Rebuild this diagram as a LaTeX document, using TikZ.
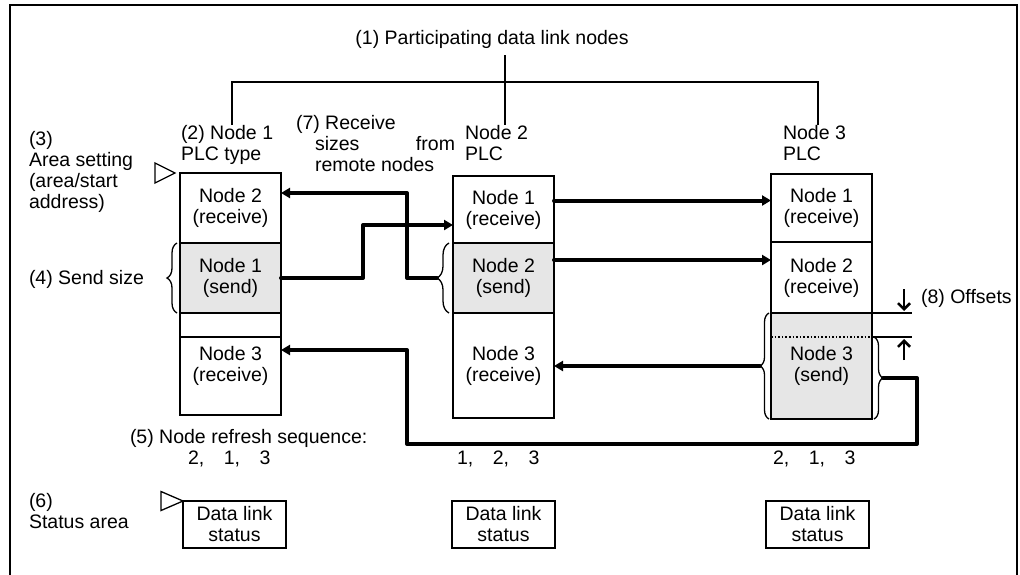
\documentclass[tikz,border=0pt]{standalone}
\usepackage{fontspec}
\setmainfont{Liberation Sans}
\usetikzlibrary{arrows.meta,decorations.pathreplacing,positioning}

\begin{document}
\begin{tikzpicture}[x=0.5pt, y=-0.5pt,
  every node/.style={font=\fontsize{9.75pt}{10.5pt}\selectfont, inner sep=0pt, outer sep=0pt},
  seccion/.style={draw, line width=1.1pt, minimum width=50.5pt, align=center, anchor=north},
  envio/.style={seccion, fill=grisEnvio},
  texto/.style={align=left, anchor=north west},
  estado/.style={draw, line width=0.8pt, minimum width=51.5pt, minimum height=23.5pt, align=center},
  fina/.style={line width=0.65pt},
  enlace/.style={line width=2pt, line cap=round, line join=round, -{Triangle[length=4.5pt,width=5pt]}},
  desplaz/.style={line width=1.3pt, -{Straight Barb[length=3pt,width=6pt]}},
  llave/.style={decorate, decoration={brace, amplitude=#1}, line width=0.65pt},
  llave/.default=5pt
]

% Colores
\definecolor{grisEnvio}{RGB}{230,230,230}

% Marco
\useasboundingbox (0,0) rectangle (1020,574);
\draw[line width=0.8pt] (10,580) -- (10,5) -- (1017,5) -- (1017,580);

% Titulo
\node[anchor=base] (titulo) at (492,44) {(1) Participating data link nodes};

% Columna nodo 1
\node[seccion, minimum height=35pt] (c1a) at (230.5,173) {Node 2\\(receive)};
\node[envio, minimum height=35pt, below=0pt of c1a] (c1b) {Node 1\\(send)};
\node[seccion, minimum height=12pt, below=0pt of c1b] (c1c) {};
\node[seccion, minimum height=39pt, below=0pt of c1c,
  label={[align=center, yshift=5pt]center:Node 3\\(receive)}] (c1d) {};

% Columna nodo 2
\node[seccion, minimum height=33.5pt] (c2a) at (503.5,176) {Node 1\\(receive)};
\node[envio, minimum height=35pt, below=0pt of c2a] (c2b) {Node 2\\(send)};
\node[seccion, minimum height=52.5pt, below=0pt of c2b] (c2c) {Node 3\\(receive)};

% Columna nodo 3
\node[seccion, minimum height=34pt] (c3a) at (821.5,174) {Node 1\\(receive)};
\node[seccion, minimum height=35.5pt, below=0pt of c3a] (c3b) {Node 2\\(receive)};
\node[envio, minimum height=53pt, below=0pt of c3b] (c3c) {Node 3\\(send)};
\draw[line width=0.8pt, densely dotted] ([yshift=-12pt]c3c.north west) -- ([yshift=-12pt]c3c.north east);

% Etiquetas de las PLC
\node[texto] (l1) at (181,125) {(2) Node 1\\PLC type};
\node[texto] (l2) at (465,125) {Node 2\\PLC};
\node[texto] (l3) at (783,125) {Node 3\\PLC};

% Bus de nodos participantes
\coordinate (busL) at (232,82);
\coordinate (busR) at (818,82);
\coordinate (busT) at (505,55);
\draw[fina] (busL |- l1.north) -- (busL) -- (busR) -- (busR |- l3.north);
\draw[fina] (busT) -- (busT |- l2.north);

% Textos de la izquierda
\node[texto] (area) at (29,131) {(3)\\Area setting\\(area/start\\address)};
\node[anchor=west] (tamenv) at (29,279) {(4) Send size};
\node[texto] (recep) at (296,115) {(7) Receive\\\hspace*{9.5pt}\makebox[70pt][s]{sizes from}\\\hspace*{9.5pt}remote nodes};
\node[texto] (estlbl) at (29,493) {(6)\\Status area};

% Marcadores de inicio de area
\draw[fina] ([xshift=-2.5pt]c1a.north west) -- ++(-20,-10) -- ++(0,20) -- cycle;

% Llaves
\draw[llave=5pt] ([xshift=-1.5pt]c1b.south west) -- ([xshift=-1.5pt]c1b.north west);
\draw[llave=6pt] ([xshift=-2pt]c2b.south west) -- ([xshift=-2pt]c2b.north west);
\draw[llave=4.5pt] ([xshift=-1pt]c3c.south west) -- ([xshift=-1pt]c3c.north west);
\draw[llave=4.5pt] ([xshift=1pt,yshift=-12pt]c3c.north east) -- ([xshift=1pt]c3c.south east);

% Puntos de los enlaces
\coordinate (br2) at ([xshift=-8pt]c2b.west);
\coordinate (br3l) at ([xshift=-5.5pt]c3c.west);
\coordinate (br3r) at ([xshift=5.5pt,yshift=-6pt]c3c.east);
\coordinate (j1) at (407,193);
\coordinate (j2) at (363,225);
\coordinate (j4) at (917,444);
\coordinate (j5) at (407,350);
\coordinate (a3) at ([yshift=4.5pt]c2a.east);
\coordinate (a4) at ([yshift=9pt]c2b.east);

% Enlaces de datos
\draw[enlace] (br2) -| (j1) -- (j1 -| c1a.east);
\draw[enlace] (c1b.east) -| (j2) -- (j2 -| c2a.west);
\draw[enlace] (a3) -- (a3 -| c3a.west);
\draw[enlace] (a4) -- (a4 -| c3b.west);
\draw[enlace] (br3l) -- (br3l -| c2c.east);
\draw[enlace] (br3r) -| (j4) -| (j5) -- (j5 -| c1d.east);

% Desplazamientos
\draw[fina] (c3c.north east) -- ++(40,0);
\draw[fina] ([yshift=-12pt]c3c.north east) -- ++(40,0);
\draw[desplaz] ([xshift=16pt,yshift=12pt]c3c.north east) -- ([xshift=16pt,yshift=1pt]c3c.north east);
\draw[desplaz] ([xshift=16pt,yshift=-23.5pt]c3c.north east) -- ([xshift=16pt,yshift=-13pt]c3c.north east);
\node[anchor=base west] (offs) at (921,303) {(8) Offsets};

% Secuencia de refresco
\node[anchor=base west] (refresco) at (130,443) {(5) Node refresh sequence:};
\node[anchor=base west] (sec1) at (188,464) {2,\quad1,\quad3};
\node[anchor=base west] (sec2) at (457,464) {1,\quad2,\quad3};
\node[anchor=base west] (sec3) at (773,464) {2,\quad1,\quad3};

% Areas de estado
\node[estado] (s1) at (234.5,524.5) {Data link\\status};
\node[estado] (s2) at (503.5,524.5) {Data link\\status};
\node[estado] (s3) at (817.5,524.5) {Data link\\status};
\draw[fina] (s1.north west) -- ++(-22,-9.5) -- ++(0,19) -- cycle;

\end{tikzpicture}
\end{document}
